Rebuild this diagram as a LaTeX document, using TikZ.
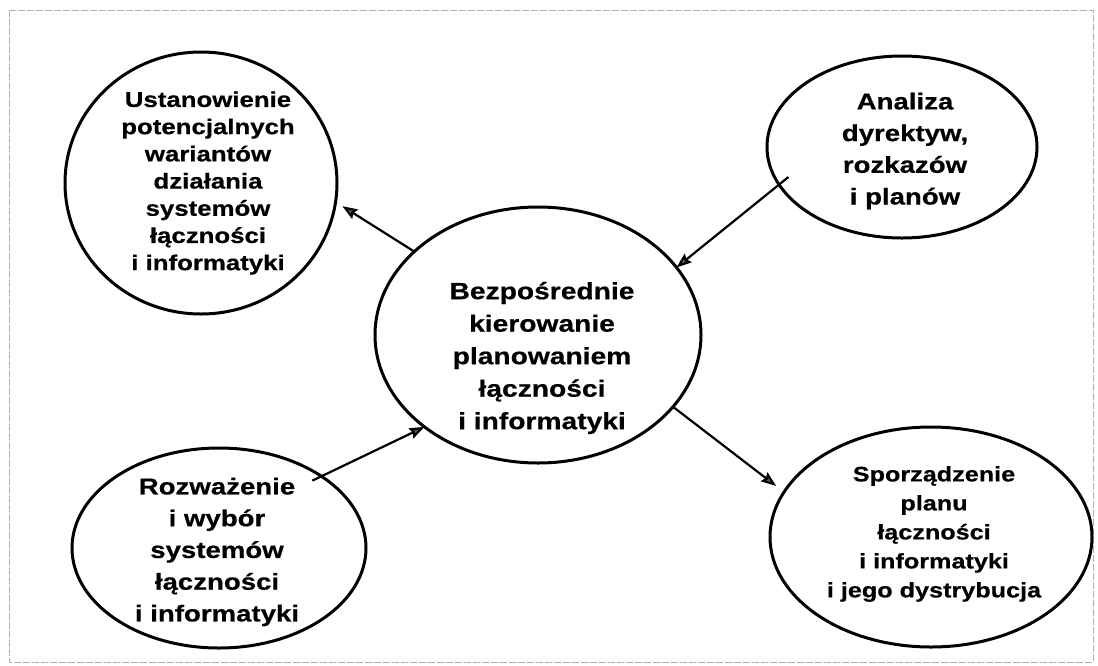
\documentclass[tikz,border=0pt]{standalone}
\usepackage{fontspec}
\newfontfamily\lab[FakeStretch=1.2, BoldFeatures={FakeBold=0.6}]{Liberation Sans}
\usetikzlibrary{arrows.meta,shapes.geometric}
\begin{document}
\begin{tikzpicture}[x=1pt,y=-1pt,
  bubble/.style={draw, ellipse, line width=3pt, inner sep=0pt, outer sep=0pt},
  lbl/.style={align=center, inner sep=0pt},
  flow/.style={line width=2.2pt, -{Stealth[length=15pt,width=11pt,inset=2pt,fill=black!65]}}]
  \useasboundingbox (0,0) rectangle (1098,665);
  % thin dashed page frame
  \draw[black!30, line width=0.8pt, dash pattern=on 7pt off 2pt] (9,10) rectangle (1093,662);

  % ellipses
  \node[bubble, minimum width=272pt, minimum height=262pt] (u) at (201,183) {};
  \node[bubble, minimum width=270pt, minimum height=182pt] (a) at (902,147) {};
  \node[bubble, minimum width=326pt, minimum height=256pt] (c) at (538,335) {};
  \node[bubble, minimum width=294pt, minimum height=200pt] (r) at (219,548) {};
  \node[bubble, minimum width=322pt, minimum height=220pt] (s) at (931,537) {};

  % texts
  \node[lbl, font=\lab\bfseries\fontsize{21.5}{27.2}\selectfont] (ut) at (208,183)
    {Ustanowienie\\potencjalnych\\wariantów\\działania\\systemów\\łączności\\i informatyki};
  \node[lbl, font=\lab\bfseries\fontsize{23}{31.7}\selectfont] (at) at (905,151)
    {Analiza\\dyrektyw,\\rozkazów\\i planów};
  \node[lbl, font=\lab\bfseries\fontsize{23.5}{32.5}\selectfont] (ct) at (542,358)
    {Bezpośrednie\\kierowanie\\planowaniem\\łączności\\i informatyki};
  \node[lbl, font=\lab\bfseries\fontsize{23}{31.75}\selectfont] (rt) at (217,552)
    {Rozważenie\\i wybór\\systemów\\łączności\\i informatyki};
  \node[lbl, font=\lab\bfseries\fontsize{21}{29}\selectfont] (st) at (934,534)
    {Sporządzenie\\planu\\łączności\\i informatyki\\i jego dystrybucja};

  % connectors
  \draw[flow, shorten >=8pt] (c.146) -- (u.-8.8);
  \draw[flow, shorten <=-12pt] (a.197.3) -- (c.26.2);
  \draw[flow, shorten <=-10pt] (r.35.6) -- (c.219.1);
  \draw[flow, shorten >=10pt] (c.-28.1) -- (s.163.9);
\end{tikzpicture}
\end{document}
